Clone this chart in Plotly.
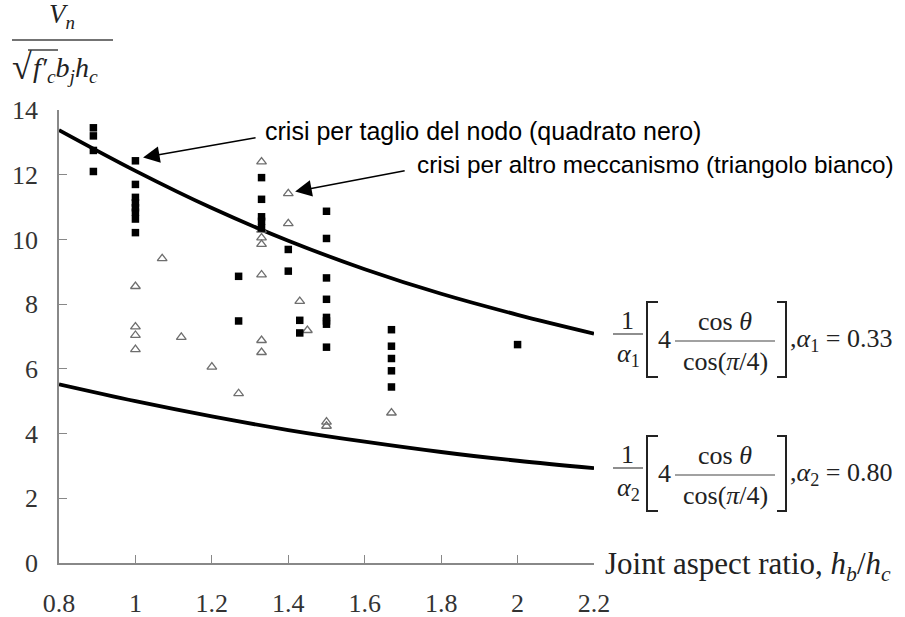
import plotly.graph_objects as go

# ---------------- data ----------------
curve_x = [0.8, 1.0, 1.2, 1.4, 1.6, 1.8, 2.0, 2.2]
curve_upper = [13.38, 12.12, 10.97, 9.96, 9.08, 8.32, 7.67, 7.09]   # alpha1 = 0.33
curve_lower = [5.52, 5.00, 4.53, 4.11, 3.75, 3.43, 3.16, 2.93]      # alpha2 = 0.80

sq_x = [0.89, 0.89, 0.89, 0.89,
        1.0, 1.0, 1.0, 1.0, 1.0, 1.0, 1.0, 1.0,
        1.27, 1.27,
        1.33, 1.33, 1.33, 1.33, 1.33,
        1.40, 1.40,
        1.43, 1.43,
        1.5, 1.5, 1.5, 1.5, 1.5, 1.5, 1.5, 1.5,
        1.67, 1.67, 1.67, 1.67, 1.67,
        2.0]
sq_y = [13.45, 13.2, 12.75, 12.1,
        12.43, 11.7, 11.3, 11.13, 10.98, 10.84, 10.63, 10.21,
        8.86, 7.48,
        11.91, 11.24, 10.7, 10.56, 10.35,
        9.69, 9.02,
        7.5, 7.11,
        10.87, 10.03, 8.81, 8.15, 7.59, 7.48, 7.38, 6.67,
        7.21, 6.70, 6.32, 5.94, 5.44,
        6.75]

tri_x = [1.0, 1.0, 1.0, 1.0,
         1.07, 1.12, 1.2, 1.27,
         1.33, 1.33, 1.33, 1.33, 1.33, 1.33, 1.33,
         1.40, 1.40,
         1.43, 1.45,
         1.5, 1.5,
         1.67]
tri_y = [8.55, 7.3, 7.04, 6.6,
         9.41, 6.98, 6.06, 5.24,
         12.4, 10.29, 10.05, 9.85, 8.91, 6.88, 6.51,
         11.42, 10.49,
         8.09, 7.19,
         4.36, 4.23,
         4.64]

x_ticks = [0.8, 1, 1.2, 1.4, 1.6, 1.8, 2, 2.2]
x_ticktext = ["0.8", "1", "1.2", "1.4", "1.6", "1.8", "2", "2.2"]
y_ticks = [0, 2, 4, 6, 8, 10, 12, 14]

label_quad = "crisi per taglio del nodo (quadrato nero)"
label_tri = "crisi per altro meccanismo (triangolo bianco)"
alpha_vals = ["0.33", "0.80"]

# ---------------- layout geometry (pixels) ----------------
W, H = 905, 617
L, R, T, B = 59, 594, 110, 563

def px(xp):
    return (xp - L) / (R - L)

def py(yp):
    return (B - yp) / (B - T)

SERIF = "Liberation Serif, Times New Roman, serif"
SANS = "Liberation Sans, Arial, sans-serif"

fig = go.Figure()

fig.add_trace(go.Scatter(x=curve_x, y=curve_upper, mode="lines",
                         line=dict(color="black", width=3.8, shape="spline"),
                         hoverinfo="skip", showlegend=False))
fig.add_trace(go.Scatter(x=curve_x, y=curve_lower, mode="lines",
                         line=dict(color="black", width=3.8, shape="spline"),
                         hoverinfo="skip", showlegend=False))
fig.add_trace(go.Scatter(x=tri_x, y=tri_y, mode="markers",
                         marker=dict(symbol="triangle-up-open", size=8.5,
                                     color="#6e6e6e", line=dict(width=1.3, color="#6e6e6e")),
                         showlegend=False))
fig.add_trace(go.Scatter(x=sq_x, y=sq_y, mode="markers",
                         marker=dict(symbol="square", size=7.5, color="black"),
                         showlegend=False))

annotations = []
shapes = []

# arrows + labels
annotations.append(dict(x=1.02, y=12.53, xref="x", yref="y", text="", showarrow=True,
                        ax=114, ay=-20, arrowhead=2, arrowsize=2.2, arrowwidth=1.5,
                        arrowcolor="black"))
annotations.append(dict(x=1.418, y=11.48, xref="x", yref="y", text="", showarrow=True,
                        ax=111, ay=-21, arrowhead=2, arrowsize=2.2, arrowwidth=1.5,
                        arrowcolor="black"))
annotations.append(dict(x=px(263), y=py(131), xref="paper", yref="paper", text=label_quad,
                        showarrow=False, xanchor="left", yanchor="middle",
                        font=dict(family=SANS, size=25, color="black")))
annotations.append(dict(x=px(415), y=py(164), xref="paper", yref="paper", text=label_tri,
                        showarrow=False, xanchor="left", yanchor="middle",
                        font=dict(family=SANS, size=24.3, color="black")))

# x axis title
annotations.append(dict(x=px(603), y=py(566), xref="paper", yref="paper",
                        text="Joint aspect ratio, <i>h<sub>b</sub></i>/<i>h<sub>c</sub></i>",
                        showarrow=False, xanchor="left", yanchor="middle",
                        font=dict(family=SERIF, size=31, color="#222")))

# y axis title (fraction)
annotations.append(dict(x=px(62), y=py(16), xref="paper", yref="paper",
                        text="<i>V<sub>n</sub></i>", showarrow=False,
                        xanchor="center", yanchor="middle",
                        font=dict(family=SERIF, size=27, color="#222")))
shapes.append(dict(type="line", xref="paper", yref="paper",
                   x0=px(12), x1=px(113), y0=py(40), y1=py(40),
                   line=dict(color="#444", width=1.5)))
annotations.append(dict(x=px(22), y=py(67), xref="paper", yref="paper",
                        text="√", showarrow=False, xanchor="center", yanchor="middle",
                        font=dict(family=SERIF, size=36, color="#222")))
shapes.append(dict(type="line", xref="paper", yref="paper",
                   x0=px(28), x1=px(58), y0=py(50), y1=py(50),
                   line=dict(color="#222", width=1.3)))
annotations.append(dict(x=px(31), y=py(69), xref="paper", yref="paper",
                        text="<i>f′<sub>c</sub>b<sub>j</sub>h<sub>c</sub></i>",
                        showarrow=False, xanchor="left", yanchor="middle",
                        font=dict(family=SERIF, size=28, color="#222")))

# formulas on the right
def add_formula(y0, idx, val):
    f = dict(family=SERIF, size=26, color="#222")
    annotations.append(dict(x=px(627), y=py(y0 - 20), xref="paper", yref="paper",
                            text="1", showarrow=False, xanchor="center", yanchor="middle", font=f))
    shapes.append(dict(type="line", xref="paper", yref="paper",
                       x0=px(613), x1=px(643), y0=py(y0 - 6), y1=py(y0 - 6),
                       line=dict(color="#444", width=1.2)))
    annotations.append(dict(x=px(628), y=py(y0 + 15), xref="paper", yref="paper",
                            text="<i>α</i><sub>%d</sub>" % idx, showarrow=False,
                            xanchor="center", yanchor="middle", font=f))
    # left bracket
    shapes.append(dict(type="path", xref="paper", yref="paper",
                       path="M %f %f L %f %f L %f %f L %f %f" % (
                           px(658), py(y0 - 38), px(647), py(y0 - 38),
                           px(647), py(y0 + 37), px(658), py(y0 + 37)),
                       line=dict(color="#222", width=2)))
    annotations.append(dict(x=px(664), y=py(y0 - 1), xref="paper", yref="paper",
                            text="4", showarrow=False, xanchor="center", yanchor="middle", font=f))
    annotations.append(dict(x=px(725), y=py(y0 - 19), xref="paper", yref="paper",
                            text="cos <i>θ</i>", showarrow=False, xanchor="center",
                            yanchor="middle", font=f))
    shapes.append(dict(type="line", xref="paper", yref="paper",
                       x0=px(675), x1=px(775), y0=py(y0 + 1), y1=py(y0 + 1),
                       line=dict(color="#444", width=1.2)))
    annotations.append(dict(x=px(725), y=py(y0 + 21), xref="paper", yref="paper",
                            text="cos(<i>π</i>/4)", showarrow=False, xanchor="center",
                            yanchor="middle", font=f))
    # right bracket
    shapes.append(dict(type="path", xref="paper", yref="paper",
                       path="M %f %f L %f %f L %f %f L %f %f" % (
                           px(777), py(y0 - 38), px(786), py(y0 - 38),
                           px(786), py(y0 + 37), px(777), py(y0 + 37)),
                       line=dict(color="#222", width=2)))
    annotations.append(dict(x=px(788), y=py(y0), xref="paper", yref="paper",
                            text=",<i>α</i><sub>%d</sub> = %s" % (idx, val), showarrow=False,
                            xanchor="left", yanchor="middle", font=f))

add_formula(340, 1, alpha_vals[0])
add_formula(474, 2, alpha_vals[1])

fig.update_layout(
    width=W, height=H,
    margin=dict(l=L, r=W - R, t=T, b=H - B, pad=0, autoexpand=False),
    paper_bgcolor="white", plot_bgcolor="white",
    showlegend=False,
    annotations=annotations,
    shapes=shapes,
    xaxis=dict(range=[0.8, 2.2], tickvals=x_ticks, ticktext=x_ticktext,
               ticks="inside", ticklen=8, tickwidth=1.2, tickcolor="#888",
               showline=True, linecolor="#888", linewidth=1.5, automargin=False,
               showgrid=False, zeroline=False, ticklabelstandoff=16,
               tickfont=dict(family=SERIF, size=26, color="#333")),
    yaxis=dict(range=[0, 14], tickvals=y_ticks, automargin=False,
               ticks="inside", ticklen=8, tickwidth=1.2, tickcolor="#888",
               showline=True, linecolor="#888", linewidth=1.5,
               showgrid=False, zeroline=False, ticklabelstandoff=14,
               tickfont=dict(family=SERIF, size=26, color="#333")),
)

fig.write_html("out.html")
